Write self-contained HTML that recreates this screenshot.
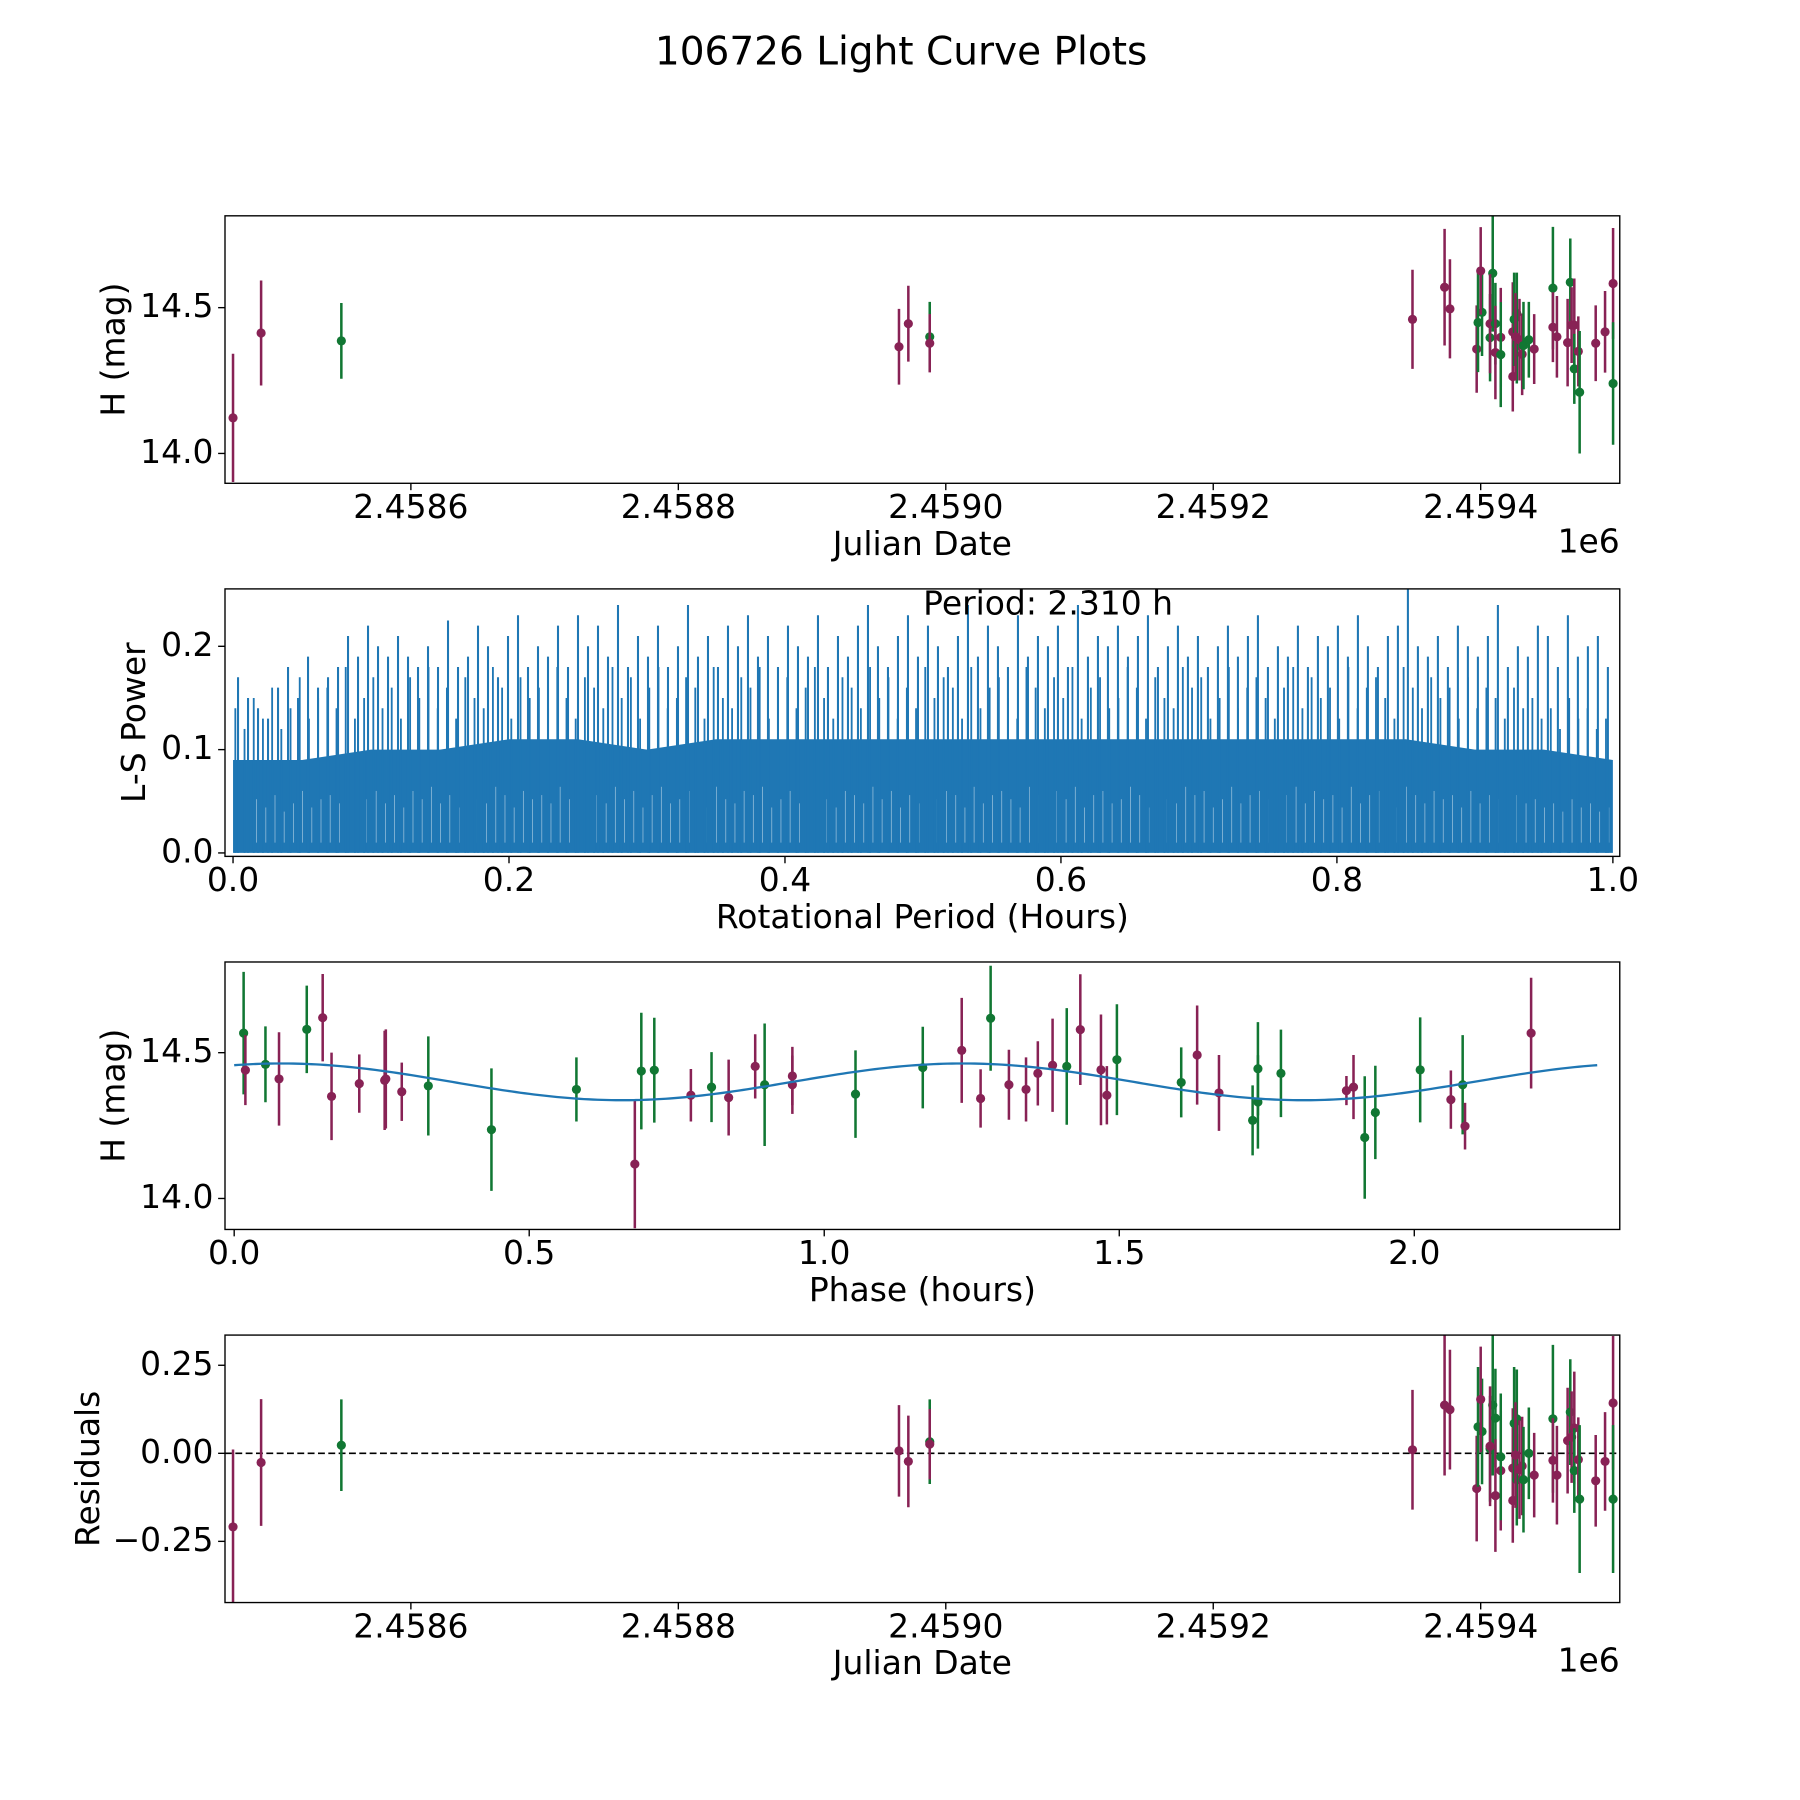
<!DOCTYPE html>
<html><head><meta charset="utf-8"><style>
html,body{margin:0;padding:0;background:#fff;}
svg{display:block;font-family:"DejaVu Sans","Liberation Sans",sans-serif;}
</style></head><body>
<svg id="fig" width="1800" height="1800" viewBox="0 0 1568 1568" xmlns="http://www.w3.org/2000/svg">
<rect width="1568" height="1568" fill="#fff"/>
<text x="785" y="47" font-size="34" text-anchor="middle" dominant-baseline="middle">106726 Light Curve Plots</text>
</svg>
<script>
// ---- data ----
const jdDays = [467,488,548,965,972,988,988,1349,1373,1377,1397,1398,1401,1400,1407,1409,1407,1411,1411,1415,1415,1424,1424,1425,1427,1427,1426,1429,1431,1432,1436,1440,1454,1454,1457,1465,1467,1468,1470,1470,1473,1474,1486,1493,1499,1499];
const jdColors = ['m','m','g','m','m','g','m','m','m','m','m','g','g','m','g','g','m','g','m','m','g','m','m','g','g','g','m','m','m','g','g','m','g','m','m','m','g','m','m','g','m','g','m','m','m','g'];
const jdMags = [14.122,14.413,14.386,14.366,14.445,14.40,14.378,14.46,14.57,14.496,14.358,14.449,14.484,14.626,14.397,14.618,14.445,14.445,14.346,14.398,14.339,14.264,14.417,14.46,14.48,14.37,14.40,14.39,14.34,14.37,14.39,14.358,14.567,14.433,14.40,14.38,14.587,14.44,14.44,14.29,14.35,14.21,14.378,14.417,14.583,14.24];
const jdErrs = [0.22,0.18,0.13,0.13,0.13,0.12,0.10,0.17,0.20,0.17,0.15,0.17,0.15,0.15,0.15,0.20,0.17,0.14,0.16,0.17,0.18,0.12,0.17,0.16,0.14,0.13,0.15,0.14,0.14,0.15,0.13,0.12,0.21,0.12,0.14,0.15,0.15,0.13,0.16,0.12,0.12,0.21,0.13,0.14,0.19,0.21];
const residVals = [-0.209,-0.026,0.023,0.007,-0.023,0.033,0.026,0.010,0.137,0.124,-0.100,0.075,0.062,0.153,0.013,0.137,0.020,0.100,-0.120,-0.049,-0.010,-0.134,-0.042,0.085,0.098,-0.075,-0.005,-0.046,-0.036,-0.075,0.000,-0.062,0.098,-0.020,-0.062,0.036,0.117,0.046,0.072,-0.049,-0.018,-0.130,-0.078,-0.023,0.143,-0.130];

const phaseVals = [0.016,0.019,0.053,0.076,0.123,0.15,0.165,0.212,0.255,0.257,0.284,0.329,0.436,0.58,0.679,0.69,0.712,0.774,0.809,0.838,0.883,0.899,0.946,0.946,1.053,1.167,1.233,1.265,1.282,1.313,1.342,1.362,1.387,1.411,1.434,1.469,1.479,1.496,1.605,1.632,1.669,1.726,1.735,1.735,1.774,1.885,1.897,1.916,1.934,2.01,2.062,2.082,2.086,2.198];
const phaseMags = [14.567,14.44,14.46,14.41,14.58,14.62,14.35,14.394,14.405,14.41,14.366,14.386,14.236,14.374,14.118,14.437,14.44,14.354,14.382,14.346,14.453,14.39,14.42,14.39,14.358,14.449,14.508,14.343,14.618,14.39,14.374,14.429,14.457,14.453,14.579,14.441,14.354,14.476,14.398,14.492,14.362,14.268,14.445,14.331,14.429,14.37,14.382,14.209,14.295,14.441,14.339,14.39,14.248,14.567];
const phaseColors = ['g','m','g','m','g','m','m','m','m','m','m','g','g','g','m','g','g','m','g','m','m','g','m','m','g','g','m','m','g','m','m','m','m','g','m','m','m','g','g','m','m','g','g','g','g','m','m','g','g','g','m','g','m','m'];
const phaseErrs = [0.21,0.12,0.13,0.16,0.15,0.15,0.15,0.10,0.17,0.17,0.10,0.17,0.21,0.11,0.22,0.20,0.18,0.09,0.12,0.13,0.11,0.21,0.10,0.10,0.15,0.14,0.18,0.10,0.18,0.12,0.11,0.11,0.16,0.20,0.19,0.19,0.10,0.19,0.12,0.17,0.13,0.12,0.16,0.16,0.15,0.05,0.11,0.21,0.16,0.18,0.10,0.17,0.08,0.19];
const fitMean = 14.40, fitAmp = 0.063, fitHalfPeriod = 1.155, fitPeak = 0.08;

const lsPeaks = [0.17,0.15,0.14,0.13,0.16,0.18,0.15,0.19,0.16,0.17,0.18,0.21,0.19,0.22,0.20,0.19,0.21,0.19,0.18,0.20,0.18,0.225,0.18,0.19,0.22,0.20,0.17,0.21,0.23,0.18,0.20,0.19,0.22,0.18,0.23,0.20,0.22,0.19,0.24,0.18,0.21,0.19,0.22,0.18,0.20,0.24,0.19,0.21,0.18,0.22,0.20,0.23,0.19,0.21,0.18,0.22,0.20,0.19,0.23,0.18,0.21,0.19,0.22,0.24,0.20,0.18,0.21,0.23,0.19,0.22,0.20,0.18,0.21,0.24,0.19,0.22,0.20,0.18,0.23,0.19,0.21,0.20,0.22,0.18,0.24,0.19,0.21,0.20,0.22,0.19,0.21,0.23,0.18,0.20,0.22,0.19,0.21,0.18,0.20,0.22,0.19,0.21,0.23,0.18,0.20,0.19,0.22,0.18,0.21,0.20,0.22,0.19,0.23,0.20,0.18,0.21,0.22,0.256,0.20,0.19,0.21,0.18,0.22,0.20,0.19,0.21,0.24,0.18,0.20,0.19,0.22,0.21,0.18,0.23,0.19,0.20,0.21,0.18];
const lsMid = [0.14,0.12,0.15,0.13,0.16,0.12,0.14,0.17,0.13,0.15,0.16,0.14,0.18,0.13,0.15,0.17,0.14,0.16,0.13,0.17,0.15,0.18,0.14,0.16,0.13,0.17,0.15,0.14,0.18,0.16,0.13,0.17,0.15,0.16,0.14,0.18,0.15,0.13,0.17,0.16,0.14,0.18,0.15,0.17,0.13,0.16,0.18,0.14,0.15,0.17,0.16,0.13,0.18,0.15,0.14,0.17,0.16,0.18,0.13,0.15,0.17,0.14,0.16,0.18,0.15,0.13,0.17,0.16,0.14,0.18,0.15,0.17,0.13,0.16,0.14,0.18,0.15,0.17,0.16,0.13,0.18,0.14,0.16,0.17,0.15,0.13,0.18,0.16,0.14,0.17,0.15,0.18,0.13,0.16,0.17,0.14,0.15,0.18,0.16,0.13,0.17,0.15,0.14,0.18,0.16,0.17,0.13,0.15,0.18,0.14,0.16,0.17,0.15,0.13,0.16,0.18,0.14,0.17,0.15,0.16,0.13,0.18,0.14,0.16,0.17,0.15,0.13,0.18,0.16,0.14,0.17,0.15,0.16,0.13,0.17,0.14,0.16,0.15,0.13,0.16,0.14,0.15,0.13,0.14,0.12,0.15,0.13,0.14,0.12,0.13];
const lsBase = [0.09,0.09,0.10,0.10,0.11,0.11,0.10,0.11,0.11,0.11,0.11,0.11,0.11,0.11,0.11,0.11,0.11,0.11,0.10,0.10,0.09];

const jdTicks = [2458600,2458800,2459000,2459200,2459400];
const jdTickLabels = ['2.4586','2.4588','2.4590','2.4592','2.4594'];
const magTicks = [14.0,14.5];
const magTickLabels = ['14.0','14.5'];
const lsYTicks = [0.0,0.1,0.2];
const lsYTickLabels = ['0.0','0.1','0.2'];
const lsXTicks = [0,0.2,0.4,0.6,0.8,1.0];
const lsXTickLabels = ['0.0','0.2','0.4','0.6','0.8','1.0'];
const phTicks = [0,0.5,1.0,1.5,2.0];
const phTickLabels = ['0.0','0.5','1.0','1.5','2.0'];
const resTicks = [0.25,0,-0.25];
const resTickLabels = ['0.25','0.00','\u22120.25'];

const NS='http://www.w3.org/2000/svg';
const svg=document.getElementById('fig');
const COL={m:'#882255',g:'#117733'};
function mk(tag,attrs,parent){const e=document.createElementNS(NS,tag);for(const k in attrs)e.setAttribute(k,attrs[k]);(parent||svg).appendChild(e);return e;}
function lin(d0,d1,p0,p1){return v=>p0+(v-d0)*(p1-p0)/(d1-d0);}
const L=196,R=1411;
const FS=28.7;

function axesFrame(name,top,bot,xs,ys,xt,xtl,yt,ytl,xlabel,ylabel,ylx){
  const g=mk('g',{});
  
  
  xt.forEach((v,i)=>{const x=xs(v);
    const t=mk('line',{x1:x,x2:x,y1:bot,y2:bot+6,stroke:'#000','stroke-width':1.2},g);
    
    const l=mk('text',{x:x,y:bot+22,'font-size':FS,'text-anchor':'middle','dominant-baseline':'middle'},g);l.textContent=xtl[i];
    });
  yt.forEach((v,i)=>{const y=ys(v);
    const t=mk('line',{x1:L-6,x2:L,y1:y,y2:y,stroke:'#000','stroke-width':1.2},g);
    
    const l=mk('text',{x:L-10,y:y,'font-size':FS,'text-anchor':'end','dominant-baseline':'middle'},g);l.textContent=ytl[i];
    });
  const xl=mk('text',{x:(L+R)/2,y:bot+54,'font-size':FS,'text-anchor':'middle','dominant-baseline':'middle'},g);xl.textContent=xlabel;
  
  const cy=(top+bot)/2;
  const yl=mk('text',{x:ylx,y:cy,'font-size':FS,'text-anchor':'middle','dominant-baseline':'middle',transform:`rotate(-90 ${ylx} ${cy})`},g);yl.textContent=ylabel;
  
  return g;
}
function frame(top,bot){const r=mk('rect',{x:L,y:top,width:R-L,height:bot-top,fill:'none',stroke:'#000','stroke-width':1.2});
  }
function clip(id,top,bot){const c=mk('clipPath',{id:id});mk('rect',{x:L,y:top,width:R-L,height:bot-top},c);}
function errPoints(g,xs,ys,xv,yv,ev,cv,name){
  xv.forEach((v,i)=>{const x=xs(v),c=COL[cv[i]];
    const ln=mk('line',{x1:x,x2:x,y1:ys(yv[i]-ev[i]),y2:ys(yv[i]+ev[i]),stroke:c,'stroke-width':2.2},g);
    
    const p=mk('circle',{cx:x,cy:ys(yv[i]),r:4,fill:c},g);
    });
}
const jdLo=2458461,jdHi=2459504;
const xJD=lin(jdLo,jdHi,L,R);
const jdAbs=jdDays.map(d=>2458000+d);

// Panel 1
{const top=188,bot=421;const ys=lin(14.0,14.5,395,268);
 clip('c1',top,bot);
 axesFrame('raw-light-curve-axes',top,bot,xJD,ys,jdTicks,jdTickLabels,magTicks,magTickLabels,'Julian Date','H (mag)',100);
 const g=mk('g',{'clip-path':'url(#c1)'});
 errPoints(g,xJD,ys,jdAbs,jdMags,jdErrs,jdColors,'obs');
 frame(top,bot);
 const o=mk('text',{x:R,y:bot+52,'font-size':FS,'text-anchor':'end','dominant-baseline':'middle'});o.textContent='1e6';
 }

// Panel 2
{const top=513,bot=746;const ys=lin(0,0.1,743,653);const xs=lin(0,1,203,1405);
 clip('c2',top,bot);
 axesFrame('periodogram-axes',top,bot,xs,ys,lsXTicks,lsXTickLabels,lsYTicks,lsYTickLabels,'Rotational Period (Hours)','L-S Power',118);
 const g=mk('g',{'clip-path':'url(#c2)'});
 let d=`M${xs(0)},${ys(0)}`;
 lsBase.forEach((v,i)=>{d+=` L${xs(i/(lsBase.length-1))},${ys(v)}`;});
 d+=` L${xs(1)},${ys(0)} Z`;
 const base=mk('path',{d:d,fill:'#1f77b4'},g);
 for(let i=0;i<lsMid.length;i++){const x=xs((i+0.25)/lsMid.length);
   const w=mk('line',{x1:x+2.5,x2:x+2.5,y1:ys(0.01),y2:ys(0.04+0.4*(lsMid[i]-0.12)),stroke:'#fff','stroke-width':0.7,opacity:0.5},g);
   }
 lsMid.forEach((v,i)=>{const x=xs((i+0.25)/lsMid.length);
   const s=mk('line',{x1:x,x2:x,y1:ys(0),y2:ys(v),stroke:'#1f77b4','stroke-width':1.6},g);
   });
 lsPeaks.forEach((v,i)=>{const f=(i+0.5)/lsPeaks.length;const x=xs(f);
   const s=mk('line',{x1:x,x2:x,y1:ys(0),y2:ys(v),stroke:'#1f77b4','stroke-width':1.8},g);
   });
 frame(top,bot);
 const t=mk('text',{x:913,y:527,'font-size':FS,'text-anchor':'middle','dominant-baseline':'middle'});t.textContent='Period: 2.310 h';
 }

// Panel 3
{const top=838,bot=1071;const ys=lin(14.0,14.5,1044,917);const xs=lin(0,1,204,718);
 clip('c3',top,bot);
 axesFrame('phase-folded-axes',top,bot,xs,ys,phTicks,phTickLabels,magTicks,magTickLabels,'Phase (hours)','H (mag)',100);
 const g=mk('g',{'clip-path':'url(#c3)'});
 errPoints(g,xs,ys,phaseVals,phaseMags,phaseErrs,phaseColors,'phase');
 let d='';for(let i=0;i<=300;i++){const p=2.31*i/300;const m=fitMean+fitAmp*Math.cos(2*Math.PI*(p-fitPeak)/fitHalfPeriod);d+=(i?' L':'M')+xs(p)+','+ys(m);}
 const c=mk('path',{d:d,fill:'none',stroke:'#1f77b4','stroke-width':2},g);
 frame(top,bot);}

// Panel 4
{const top=1163,bot=1396;const ys=lin(0,0.25,1266,1189.3);
 clip('c4',top,bot);
 axesFrame('residuals-axes',top,bot,xJD,ys,jdTicks,jdTickLabels,resTicks,resTickLabels,'Julian Date','Residuals',78);
 const g=mk('g',{'clip-path':'url(#c4)'});
 const z=mk('line',{x1:L,x2:R,y1:ys(0),y2:ys(0),stroke:'#000','stroke-width':1.5,'stroke-dasharray':'6,3'},g);
 
 errPoints(g,xJD,ys,jdAbs,residVals,jdErrs,jdColors,'residual');
 frame(top,bot);
 const o=mk('text',{x:R,y:bot+52,'font-size':FS,'text-anchor':'end','dominant-baseline':'middle'});o.textContent='1e6';
 }
</script>
</body></html>
